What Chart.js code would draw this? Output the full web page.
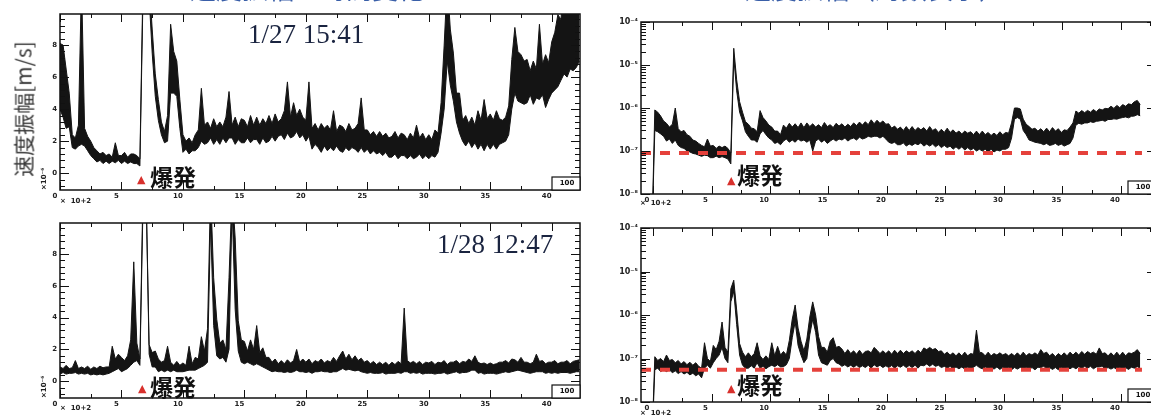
<!DOCTYPE html>
<html>
<head>
<meta charset="utf-8">
<script src="https://cdn.jsdelivr.net/npm/chart.js@4.4.1/dist/chart.umd.min.js"></script>
<style>
body { margin: 0; width: 1151px; height: 417px; overflow: hidden; background: #fff; position: relative; }
canvas { position: absolute; }
.lbl { position: absolute; white-space: nowrap; line-height: 1; }
.tiny { font: bold 7px "DejaVu Sans"; color: #222; }
.stamp { font-family: "Liberation Serif"; font-size: 27px; color: #1a2440; }
.boom { font-family: "Noto Sans CJK JP"; font-weight: bold; font-size: 23px; color: #111; }
.tri { font-family: "DejaVu Sans"; font-size: 11px; color: #d8302c; }
.ttl { font-family: "Noto Sans CJK JP"; font-size: 26px; color: #3a5fa8; }
.ytitle { font-family: "Noto Sans CJK JP"; font-size: 21px; color: #3a3a3a; transform: translate(-50%, -50%) rotate(-90deg); }
.rot { transform: rotate(-90deg); transform-origin: left top; }
</style>
</head>
<body>
<canvas id="tl" width="590" height="210" style="left:0;top:0"></canvas>
<canvas id="bl" width="590" height="207" style="left:0;top:210px"></canvas>
<canvas id="tr" width="575" height="210" style="left:590px;top:0"></canvas>
<canvas id="br" width="575" height="207" style="left:590px;top:210px"></canvas>

<div class="lbl ttl" style="left:190px;top:-25px">速度振幅の時間変化</div>
<div class="lbl ttl" style="left:745px;top:-25px">速度振幅（対数表示）</div>
<div class="lbl ytitle" style="left:23px;top:109px">速度振幅[m/s]</div>

<div class="lbl stamp" style="left:248px;top:21px">1/27 15:41</div>
<div class="lbl stamp" style="left:437px;top:231px">1/28 12:47</div>

<div class="lbl tri" style="left:137px;top:174px">▲</div>
<div class="lbl boom" style="left:150px;top:165px">爆発</div>
<div class="lbl tri" style="left:138px;top:383px">▲</div>
<div class="lbl boom" style="left:150px;top:375px">爆発</div>
<div class="lbl tri" style="left:727px;top:175px">▲</div>
<div class="lbl boom" style="left:737px;top:163px">爆発</div>
<div class="lbl tri" style="left:727px;top:383px">▲</div>
<div class="lbl boom" style="left:737px;top:373px">爆発</div>

<div class="lbl tiny" style="left:60px;top:197px">×&nbsp;&nbsp;10+2</div>
<div class="lbl tiny" style="left:60px;top:404px">×&nbsp;&nbsp;10+2</div>
<div class="lbl tiny" style="left:640px;top:199px">×&nbsp;&nbsp;10+2</div>
<div class="lbl tiny" style="left:640px;top:409px">×&nbsp;&nbsp;10+2</div>
<div class="lbl tiny rot" style="left:40px;top:190px">×10⁻⁶</div>
<div class="lbl tiny rot" style="left:40px;top:398px">×10⁻⁶</div>

<script>
// time step between samples (x 10^2 s)
const dt = 0.25;
const leftStart = 0;
const rightStart = -0.85;

// 1/27, linear: upper and lower edge of the noisy trace
const hiTL = [
  8.1, 8.0, 6.5, 5.0,  2.4, 2.2, 3.0, 12,   2.8, 2.3, 2.0, 1.6,  1.4, 1.2, 1.3, 1.1,
  1.2, 1.0, 1.9, 1.1,  1.1, 1.3, 1.0, 1.2,  1.2, 1.1, 0.9, 12,   12, 12, 9.0, 6.2,
  4.6, 3.2, 2.6, 3.6,  9.3, 7.6, 7.0, 4.6,  2.4, 2.0, 2.2, 1.9,  2.4, 2.7, 5.3, 3.0,
  3.2, 2.8, 3.4, 2.9,  3.2, 2.9, 3.5, 5.1,  3.0, 3.5, 2.9, 3.4,  3.3, 2.9, 3.6, 3.0,
  3.5, 3.0, 3.4, 3.1,  3.6, 3.1, 3.7, 3.2,  3.4, 3.9, 5.7, 3.5,  4.4, 3.6, 4.0, 3.5,
  3.3, 5.7, 2.8, 3.1,  2.7, 3.1, 2.8, 3.0,  2.7, 3.9, 2.6, 3.0,  2.9, 2.6, 3.1, 2.7,
  2.8, 3.1, 4.7, 2.7,  2.7, 2.4, 2.6, 2.3,  2.6, 2.3, 2.5, 2.2,  2.3, 2.6, 2.2, 2.5,
  2.4, 2.1, 2.5, 2.2,  3.0, 2.2, 2.5, 2.1,  2.4, 2.1, 2.7, 2.5,  4.4, 8.0, 12, 9.0,
  7.5, 5.0, 5.0, 3.3,  3.6, 3.1, 3.5, 3.0,  3.9, 3.3, 4.6, 3.4,  3.7, 3.3, 3.9, 3.4,
  3.3, 3.5, 4.2, 7.1,  9.1, 7.6, 7.4, 7.0,  7.1, 6.4, 7.0, 6.5,  9.3, 6.8, 7.4, 6.9,
  8.2, 8.8, 9.9, 9.6,  12, 10.2, 12, 10.5,  12, 12
];
const loTL = [
  4.0, 3.5, 2.8, 2.9,  1.6, 1.5, 1.7, 1.8,  1.7, 1.4, 1.1, 0.9,  0.7, 0.8, 0.6, 0.75,
  0.6, 0.75, 0.65, 0.8, 0.6, 0.75, 0.6, 0.7, 0.6, 0.6, 0.45, 11,  12, 11, 7.5, 4.8,
  3.3, 2.4, 1.9, 2.0,  5.0, 5.0, 4.8, 2.8,  1.3, 1.5, 1.2, 1.4,  1.4, 1.6, 2.0, 1.8,
  1.9, 2.2, 1.8, 2.1,  1.8, 2.2, 1.9, 2.2,  2.2, 1.8, 2.1, 1.9,  1.9, 2.2, 1.9, 2.1,
  2.1, 1.8, 2.2, 1.9,  2.0, 2.3, 2.0, 2.3,  2.4, 2.1, 2.5, 2.2,  2.3, 2.6, 2.2, 2.4,
  2.0, 2.3, 1.5, 1.8,  1.6, 1.3, 1.7, 1.4,  1.6, 1.4, 1.7, 1.4,  1.3, 1.6, 1.4, 1.6,
  1.5, 1.3, 1.6, 1.3,  1.5, 1.2, 1.4, 1.2,  1.3, 1.1, 1.3, 1.0,  1.0, 1.2, 0.9, 1.1,
  1.1, 0.9, 1.1, 0.9,  1.0, 1.2, 0.9, 1.1,  0.9, 1.1, 1.0, 1.3,  2.5, 4.0, 7.0, 5.5,
  4.5, 3.2, 2.5, 2.0,  1.7, 2.0, 1.6, 1.9,  1.5, 1.8, 1.4, 1.8,  1.5, 1.8, 1.5, 1.8,
  1.9, 2.0, 2.4, 4.0,  5.0, 4.5, 4.4, 4.3,  4.4, 4.9, 4.3, 4.7,  4.6, 4.9, 4.1, 4.6,
  5.0, 5.2, 5.4, 5.8,  6.2, 6.0, 6.5, 6.4,  6.6, 7.0
];

// 1/28, linear
const hiBL = [
  0.9, 0.8, 1.0, 0.8,  0.85, 1.3, 0.8, 0.9, 0.8, 0.95, 0.75, 0.9, 0.8, 0.95, 0.85, 0.9,
  0.9, 2.2, 1.4, 1.7,  1.5, 1.3, 1.6, 2.6,  7.5, 2.4, 1.4, 12,   12, 2.3, 1.8, 1.9,
  1.4, 1.2, 1.3, 2.2,  1.2, 1.0, 1.25, 1.0, 1.15, 1.0, 2.2, 1.1, 1.5, 1.4, 2.8, 1.9,
  3.3, 12, 6.5, 3.9,   2.4, 2.6, 2.0, 6.5,  12, 9.0, 3.8, 2.6,   2.5, 1.9, 2.6, 2.0,
  3.5, 1.8, 2.1, 1.5,  1.5, 1.2, 1.4, 1.1,  1.3, 1.1, 1.35, 1.15, 1.3, 2.0, 1.2, 1.4,
  1.2, 1.4, 1.1, 1.3,  1.2, 1.4, 1.15, 1.3, 1.2, 1.5, 1.25, 1.6, 1.9, 1.4, 1.7, 1.35,
  1.6, 1.3, 1.45, 1.2, 1.3, 1.1, 1.25, 1.05, 1.2, 1.05, 1.2, 1.0, 1.2, 1.05, 1.25, 1.1,
  4.6, 1.3, 1.15, 1.25, 1.1, 1.25, 1.05, 1.2, 1.15, 1.25, 1.05, 1.2, 1.15, 1.3, 1.05, 1.2,
  1.2, 1.3, 1.1, 1.25, 1.2, 1.4, 1.25, 1.6, 1.2, 1.1, 1.15, 1.05, 1.15, 1.05, 1.1, 1.2,
  1.2, 1.3, 1.15, 1.4, 1.35, 1.2, 1.5, 1.2, 1.2, 1.1, 1.2, 1.7,  1.25, 1.3, 1.1, 1.2,
  1.2, 1.3, 1.1, 1.2,  1.2, 1.3, 1.1, 1.25, 1.3, 1.35
];
const loBL = [
  0.45, 0.55, 0.45, 0.5, 0.5, 0.55, 0.45, 0.5, 0.45, 0.5, 0.4, 0.45, 0.4, 0.45, 0.4, 0.45,
  0.5, 0.6, 0.7, 0.8,  0.6, 0.7, 0.8, 1.0,  1.2, 1.3, 1.0, 11,   12, 1.7, 0.9, 0.9,
  0.6, 0.7, 0.6, 0.7,  0.6, 0.7, 0.6, 0.6,  0.6, 0.65, 0.7, 0.7, 0.7, 0.8, 0.9, 1.0,
  1.2, 10, 3.5, 1.6,   1.4, 1.5, 1.2, 2.0,  11, 4.5, 1.9, 1.2,   1.1, 1.2, 1.1, 1.0,
  1.1, 1.0, 0.9, 0.8,  0.7, 0.6, 0.65, 0.6, 0.6, 0.55, 0.6, 0.55, 0.6, 0.7, 0.6, 0.6,
  0.55, 0.6, 0.5, 0.6, 0.6, 0.65, 0.6, 0.6, 0.55, 0.6, 0.6, 0.7, 0.8, 0.7, 0.75, 0.7,
  0.65, 0.7, 0.6, 0.55, 0.5, 0.55, 0.5, 0.5, 0.5, 0.55, 0.45, 0.5, 0.5, 0.5, 0.55, 0.5,
  0.6, 0.6, 0.5, 0.55, 0.5, 0.55, 0.45, 0.5, 0.5, 0.5, 0.45, 0.5, 0.5, 0.55, 0.45, 0.5,
  0.55, 0.6, 0.5, 0.55, 0.55, 0.6, 0.7, 0.7, 0.5, 0.55, 0.45, 0.5, 0.5, 0.5, 0.45, 0.5,
  0.55, 0.6, 0.55, 0.6, 0.65, 0.7, 0.65, 0.6, 0.55, 0.5, 0.55, 0.6, 0.6, 0.6, 0.5, 0.55,
  0.5, 0.55, 0.5, 0.55, 0.55, 0.55, 0.5, 0.55, 0.6, 0.6
];

// 1/27, log, in units of 1e-7 m/s
const hiTR = [
  0.01, 0.01, 0.01, 0.01, 9.0, 8.0, 6.5, 5.0, 4.4, 3.6, 4.2, 10,  3.3, 2.8, 3.0, 2.4,
  2.2, 1.8, 1.7, 1.5,  1.35, 1.25, 1.9, 1.3, 1.35, 1.15, 1.3, 1.2, 1.3, 1.15, 0.9, 245,
  45, 14, 8.0, 4.8,    4.2, 3.4, 3.3, 2.8,  8.7, 6.0, 5.0, 4.0,  3.6, 2.9, 2.9, 2.4,
  4.0, 3.4, 4.4, 3.6,  4.3, 3.5, 4.5, 3.5,  4.5, 3.7, 4.3, 3.6,  4.1, 3.5, 4.6, 3.7,
  4.1, 3.5, 4.4, 3.8,  4.3, 3.6, 4.2, 3.7,  4.5, 3.9, 4.7, 4.0,  4.8, 4.1, 5.3, 4.3,
  5.2, 4.4, 5.0, 4.2,  4.3, 3.4, 3.8, 3.2,  3.6, 3.0, 3.7, 3.0,  3.7, 3.0, 3.5, 3.1,
  3.5, 2.9, 3.7, 3.0,  3.3, 2.7, 3.2, 2.7,  3.4, 2.7, 3.1, 2.6,  2.9, 2.5, 2.9, 2.6,
  2.8, 2.4, 2.9, 2.4,  2.9, 2.4, 2.7, 2.3,  2.6, 2.3, 2.8, 2.4,  2.7, 2.6, 4.5, 10,
  10, 9.5, 5.5, 4.2,   3.7, 3.2, 3.4, 2.9,  3.3, 2.8, 3.4, 2.8,  3.5, 2.9, 3.3, 2.7,
  3.1, 3.0, 3.6, 4.5,  8.5, 7.6, 8.7, 7.8,  8.8, 8.0, 9.2, 8.2,  9.5, 9.0, 9.8, 9.6,
  11, 9.8, 11.5, 10.2, 12, 11, 12.5, 12,    14, 15, 12
];
const loTR = [
  0.01, 0.01, 0.01, 0.01, 3.0, 2.8, 2.5, 2.2, 1.7, 1.9, 1.5, 1.8, 1.35, 1.2, 1.15, 1.0,
  0.95, 0.88, 0.85, 0.8, 0.75, 0.8, 0.78, 0.7, 0.7, 0.76, 0.7, 0.74, 0.7, 0.65, 0.5, 150,
  25, 8.0, 5.0, 2.8,   2.2, 1.8, 1.8, 1.6,  2.5, 3.0, 2.4, 2.0,  1.8, 1.5, 1.6, 1.4,
  1.7, 1.9, 1.6, 1.8,  1.6, 1.9, 1.7, 1.8,  1.6, 1.8, 1.0, 1.7,  1.9, 1.6, 1.8, 1.5,
  1.7, 1.9, 1.7, 1.9,  1.8, 2.0, 1.7, 1.9,  2.0, 1.8, 2.1, 1.9,  2.0, 2.2, 2.1, 2.2,
  2.2, 2.0, 2.2, 1.9,  1.6, 1.5, 1.6, 1.4,  1.4, 1.55, 1.3, 1.45, 1.35, 1.5, 1.4, 1.55,
  1.3, 1.45, 1.3, 1.45, 1.25, 1.4, 1.2, 1.35, 1.2, 1.3, 1.1, 1.25, 1.1, 1.25, 1.05, 1.2,
  1.05, 1.15, 1.0, 1.1, 1.0, 1.1, 0.95, 1.1, 0.95, 1.05, 1.0, 1.1, 1.1, 1.2, 2.0, 5.5,
  6.0, 5.5, 3.0, 2.4,  1.8, 1.7, 1.6, 1.55, 1.5, 1.4, 1.5, 1.35, 1.4, 1.5, 1.35, 1.45,
  1.3, 1.4, 1.5, 2.0,  4.0, 4.4, 4.2, 4.5,  4.5, 4.8, 4.6, 4.9,  5.0, 5.2, 4.9, 5.4,
  5.4, 5.6, 5.5, 5.8,  6.0, 6.2, 5.9, 6.4,  6.5, 7.0, 6.6
];

// 1/28, log, in units of 1e-7 m/s
const hiBR = [
  0.01, 0.01, 0.01, 0.01, 1.1, 0.9, 1.0, 0.85, 1.2, 0.9, 0.95, 0.8, 0.9, 0.75, 0.85, 0.72,
  0.82, 0.7, 0.8, 0.66, 0.6, 2.3, 1.0, 0.85, 2.0, 1.6, 2.5, 6.9,  1.8, 1.4, 40, 63,
  13, 2.2, 1.4, 1.1,   1.35, 1.1, 1.3, 2.3, 1.15, 0.95, 1.15, 0.95, 2.3, 1.15, 1.9, 1.2,
  1.45, 1.2, 2.6, 8.0, 17, 5.0, 2.5, 1.5,   2.8, 9.0, 20, 10,    3.2, 1.8, 1.8, 1.4,
  2.5, 3.0, 1.8, 1.9,  1.65, 1.3, 1.6, 1.3, 1.5, 1.25, 1.55, 1.25, 1.45, 1.5, 1.35, 1.8,
  1.55, 1.3, 1.5, 1.3, 1.5, 1.25, 1.55, 1.3, 1.55, 1.3, 1.5, 1.35, 1.5, 1.3, 1.55, 1.35,
  1.75, 1.6, 1.8, 1.6, 1.7, 1.45, 1.5, 1.25, 1.4, 1.2, 1.35, 1.15, 1.35, 1.15, 1.4, 1.15,
  1.3, 1.25, 4.5, 1.4, 1.35, 1.15, 1.4, 1.15, 1.3, 1.2, 1.35, 1.2, 1.3, 1.15, 1.3, 1.15,
  1.35, 1.15, 1.4, 1.15, 1.3, 1.2, 1.35, 1.2, 1.6, 1.3, 1.4, 1.15, 1.3, 1.1, 1.3, 1.15,
  1.35, 1.15, 1.4, 1.2, 1.4, 1.2, 1.45, 1.25, 1.45, 1.3, 1.4, 1.25, 1.75, 1.3, 1.35, 1.15,
  1.35, 1.15, 1.4, 1.15, 1.4, 1.15, 1.35, 1.3, 1.4, 1.6, 1.3
];
const loBR = [
  0.01, 0.01, 0.01, 0.01, 0.55, 0.6, 0.5, 0.55, 0.5, 0.55, 0.47, 0.52, 0.45, 0.5, 0.44, 0.48,
  0.42, 0.46, 0.4, 0.44, 0.36, 0.6, 0.7, 0.6, 0.8, 1.0, 1.2, 1.8,  1.0, 0.8, 20, 35,
  6.0, 1.2, 0.7, 0.6,  0.6, 0.68, 0.6, 0.8, 0.6, 0.66, 0.58, 0.65, 0.7, 0.65, 0.72, 0.64,
  0.65, 0.72, 1.0, 3.0, 7.0, 2.0, 1.2, 0.8,  1.0, 3.5, 8.0, 4.0,  1.2, 0.8, 0.75, 0.7,
  0.9, 1.0, 0.8, 0.75, 0.66, 0.72, 0.64, 0.7, 0.63, 0.7, 0.62, 0.68, 0.62, 0.7, 0.6, 0.72,
  0.64, 0.7, 0.62, 0.68, 0.62, 0.69, 0.6, 0.68, 0.63, 0.7, 0.62, 0.69, 0.62, 0.7, 0.6, 0.7,
  0.68, 0.75, 0.66, 0.74, 0.66, 0.7, 0.62, 0.66, 0.6, 0.66, 0.58, 0.64, 0.58, 0.64, 0.57, 0.63,
  0.57, 0.63, 0.7, 0.62, 0.58, 0.64, 0.57, 0.63, 0.57, 0.64, 0.56, 0.63, 0.56, 0.62, 0.55, 0.62,
  0.57, 0.63, 0.56, 0.62, 0.56, 0.62, 0.55, 0.63, 0.62, 0.66, 0.58, 0.62, 0.56, 0.62, 0.55, 0.62,
  0.57, 0.63, 0.58, 0.64, 0.58, 0.65, 0.59, 0.66, 0.6, 0.66, 0.58, 0.64, 0.64, 0.67, 0.57, 0.62,
  0.57, 0.62, 0.56, 0.62, 0.57, 0.62, 0.56, 0.63, 0.6, 0.65, 0.6
];

// red noise level lines (units of 1e-7 m/s) and their x extent
const noiseTR = 0.9;
const noiseBR = 0.55;
const noiseSpan = [-1.03, 41.8];

// axis ticks
const xTicks = [0, 5, 10, 15, 20, 25, 30, 35, 40];
const xMinorTicks = [2.5, 7.5, 12.5, 17.5, 22.5, 27.5, 32.5, 37.5, 42.5];
const linTicks = [0, 2, 4, 6, 8];
const logTicks = [1e-8, 1e-7, 1e-6, 1e-5, 1e-4];
const logTickLabels = ['10⁻⁸', '10⁻⁷', '10⁻⁶', '10⁻⁵', '10⁻⁴'];

const linMinor = [];
for (let v = -0.8; v < 9.9; v += 0.4) linMinor.push(Math.round(v * 10) / 10);
const logMinor = [];
for (let e = -8; e < -4; e++) for (let k = 2; k <= 9; k++) logMinor.push(k * Math.pow(10, e));

function series(start, vals, unit) {
  return vals.map((v, i) => ({ x: start + i * dt, y: v * unit }));
}

const ink = '#141414';
const tickFont = { family: 'DejaVu Sans', size: 7, weight: 'bold' };

// frame box, inward tick marks on all four sides, and the little "100" box
const frameTicks = {
  id: 'frameTicks',
  afterDatasetsDraw(chart, args, o) {
    const { ctx, chartArea: a } = chart;
    const xs = chart.scales.x, ys = chart.scales.y;
    ctx.save();
    ctx.strokeStyle = '#111';
    ctx.lineWidth = 1;
    ctx.beginPath();
    const xt = (vals, len) => vals.forEach(v => {
      if (v < xs.min || v > xs.max) return;
      const p = Math.round(xs.getPixelForValue(v)) + 0.5;
      ctx.moveTo(p, a.bottom); ctx.lineTo(p, a.bottom - len);
      ctx.moveTo(p, a.top); ctx.lineTo(p, a.top + len);
    });
    const yt = (vals, len) => vals.forEach(v => {
      if (v < ys.min || v > ys.max) return;
      const p = Math.round(ys.getPixelForValue(v)) + 0.5;
      ctx.moveTo(a.left, p); ctx.lineTo(a.left + len, p);
      ctx.moveTo(a.right, p); ctx.lineTo(a.right - len, p);
    });
    xt(o.xMajor, 8); xt(o.xMinor, 4);
    yt(o.yMajor, 9); yt(o.yMinor, 5);
    ctx.stroke();
    ctx.lineWidth = 1.5;
    ctx.strokeRect(a.left, a.top, a.right - a.left, a.bottom - a.top);
    const bw = 28, bh = 13;
    ctx.lineWidth = 1.2;
    ctx.fillStyle = '#fff';
    ctx.fillRect(a.right - bw, a.bottom - bh, bw, bh);
    ctx.strokeRect(a.right - bw, a.bottom - bh, bw, bh);
    ctx.fillStyle = '#111';
    ctx.font = 'bold 7px "DejaVu Sans"';
    ctx.textAlign = 'center';
    ctx.textBaseline = 'middle';
    ctx.fillText('100', a.right - bw / 2 + 1, a.bottom - bh / 2);
    ctx.restore();
  }
};

function panel(id, cfg) {
  const cv = document.getElementById(id);
  const W = cv.width, H = cv.height, A = cfg.area;
  const yScale = cfg.log
    ? {
        type: 'logarithmic', min: 1e-8, max: 1e-4,
        afterBuildTicks: s => { s.ticks = logTicks.map(v => ({ value: v })); },
        ticks: { font: { family: 'DejaVu Sans', size: 8, weight: 'bold' }, color: '#222', padding: 3,
                 callback: v => logTickLabels[logTicks.findIndex(t => Math.abs(t - v) / t < 1e-6)] }
      }
    : {
        type: 'linear', min: -1.05, max: 9.94,
        afterBuildTicks: s => { s.ticks = linTicks.map(v => ({ value: v })); },
        ticks: { font: tickFont, color: '#222', padding: 3 }
      };
  Object.assign(yScale, {
    grid: { display: false, drawTicks: false },
    border: { display: false },
    afterFit: s => { s.width = A.l; }
  });

  const datasets = [];
  if (cfg.noise !== undefined) {
    datasets.push({
      data: noiseSpan.map(x => ({ x: x, y: cfg.noise * 1e-7 })),
      borderColor: '#e5413b', borderWidth: 4, borderDash: [10, 9],
      pointRadius: 0, fill: false, order: 0
    });
  }
  // upper edge, filled down to the lower edge
  datasets.push({
    data: series(cfg.start, cfg.hi, cfg.unit),
    borderColor: ink, borderWidth: 1, backgroundColor: ink, fill: '+1',
    pointRadius: 0, tension: 0, order: 1
  });
  datasets.push({
    data: series(cfg.start, cfg.lo, cfg.unit),
    borderColor: ink, borderWidth: 1, fill: false,
    pointRadius: 0, tension: 0, order: 2
  });

  new Chart(cv, {
    type: 'line',
    data: { datasets: datasets },
    options: {
      responsive: false,
      animation: false,
      events: [],
      layout: { padding: { left: 0, top: A.t, right: W - A.r, bottom: 0 } },
      plugins: {
        legend: { display: false },
        tooltip: { enabled: false },
        frameTicks: { xMajor: xTicks, xMinor: xMinorTicks,
                      yMajor: cfg.log ? logTicks : linTicks,
                      yMinor: cfg.log ? logMinor : linMinor }
      },
      scales: {
        x: {
          type: 'linear', min: cfg.xMin, max: cfg.xMax,
          grid: { display: false, drawTicks: false },
          border: { display: false },
          afterBuildTicks: s => { s.ticks = xTicks.map(v => ({ value: v })); },
          ticks: { font: tickFont, color: '#222', padding: 2, labelOffset: cfg.labelShift,
                   maxRotation: 0, autoSkip: false },
          afterFit: s => { s.height = H - A.b; }
        },
        y: yScale
      }
    },
    plugins: [frameTicks]
  });
}

panel('tl', { area: { l: 60, t: 14, r: 580, b: 190 }, xMin: 0, xMax: 42.3, labelShift: -5,
              start: leftStart, hi: hiTL, lo: loTL, unit: 1 });
panel('bl', { area: { l: 60, t: 13, r: 580, b: 188 }, xMin: 0, xMax: 42.3, labelShift: -5,
              start: leftStart, hi: hiBL, lo: loBL, unit: 1 });
panel('tr', { area: { l: 51, t: 22, r: 566, b: 194 }, xMin: -1.03, xMax: 43.0, labelShift: -6,
              log: true, start: rightStart, hi: hiTR, lo: loTR, unit: 1e-7, noise: noiseTR });
panel('br', { area: { l: 51, t: 18, r: 566, b: 192 }, xMin: -1.03, xMax: 43.0, labelShift: -6,
              log: true, start: rightStart, hi: hiBR, lo: loBR, unit: 1e-7, noise: noiseBR });
</script>
</body>
</html>
